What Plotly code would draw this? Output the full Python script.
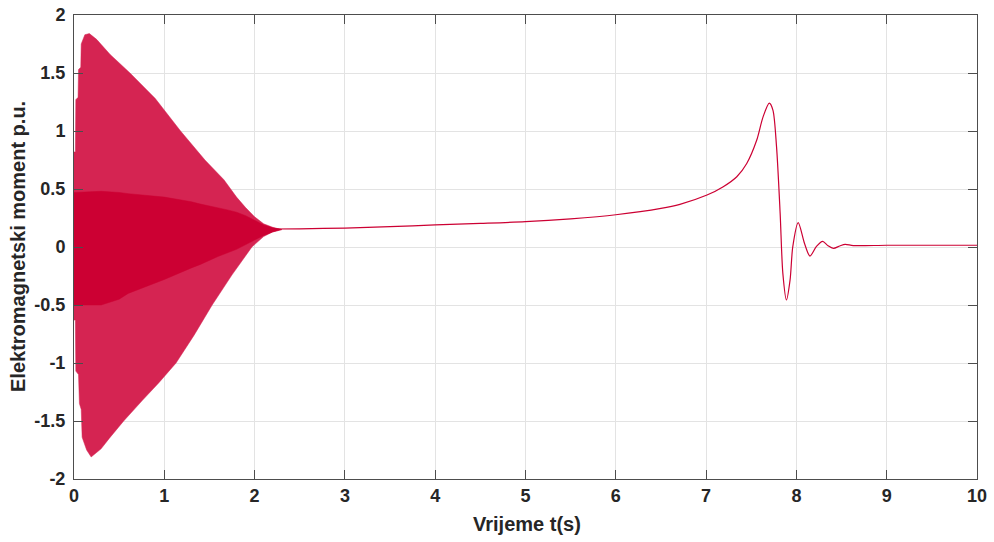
import plotly.graph_objects as go

# ---- Oscillating start-up region (envelopes) ----
env_t = [0.0, 0.015, 0.02, 0.045, 0.05, 0.075, 0.08, 0.12, 0.17, 0.25, 0.4, 0.62,
         0.9, 1.18, 1.45, 1.66, 1.8, 1.9, 2.0, 2.1, 2.2, 2.3]
env_upper = [0.82, 0.82, 1.27, 1.29, 1.53, 1.55, 1.75, 1.83, 1.84, 1.79, 1.66, 1.5,
             1.28, 1.0, 0.75, 0.58, 0.43, 0.34, 0.26, 0.2, 0.17, 0.155]
low_t = [0.0, 0.015, 0.02, 0.05, 0.06, 0.08, 0.09, 0.14, 0.19, 0.3, 0.39, 0.55, 0.76,
         0.94, 1.13, 1.33, 1.53, 1.75, 1.97, 2.1, 2.2, 2.3]
env_lower = [-0.63, -0.63, -1.07, -1.1, -1.35, -1.4, -1.64, -1.75, -1.81, -1.74, -1.65, -1.5, -1.32,
             -1.17, -1.0, -0.76, -0.5, -0.24, 0.0, 0.09, 0.13, 0.15]

# dense (solid) core of the oscillation
core_t = [0.0, 0.3, 0.5, 0.6, 1.0, 1.3, 1.4, 1.6, 1.7, 1.8, 1.9, 2.0, 2.1, 2.2, 2.3]
core_upper = [0.47, 0.48, 0.47, 0.46, 0.43, 0.39, 0.37, 0.34, 0.32, 0.3, 0.27, 0.23, 0.19, 0.165, 0.155]
core_lower = [-0.5, -0.5, -0.45, -0.4, -0.28, -0.18, -0.15, -0.08, -0.05, -0.02, 0.02, 0.06, 0.1, 0.13, 0.15]

# ---- Smooth part after start-up ----
curve_t = [2.2, 2.5, 3.0, 3.5, 4.0, 4.5, 5.0, 5.5, 6.0, 6.5, 6.71, 7.01, 7.19, 7.34, 7.45,
           7.56, 7.63, 7.70, 7.74, 7.78, 7.82, 7.85, 7.89, 7.93, 7.96, 8.02, 8.09, 8.15,
           8.22, 8.29, 8.35, 8.41, 8.48, 8.54, 8.63, 9.0, 9.5, 10.0]
curve_y = [0.155, 0.157, 0.163, 0.175, 0.19, 0.203, 0.218, 0.243, 0.278, 0.333, 0.368, 0.448,
           0.52, 0.606, 0.72, 0.92, 1.12, 1.24, 1.18, 0.865, 0.29, -0.227, -0.457, -0.284,
           0.003, 0.21, 0.03, -0.078, 0.003, 0.049, 0.011, -0.011, 0.009, 0.023, 0.012,
           0.015, 0.015, 0.015]

x_ticks = [0, 1, 2, 3, 4, 5, 6, 7, 8, 9, 10]
x_labels = ["0", "1", "2", "3", "4", "5", "6", "7", "8", "9", "10"]
y_ticks = [-2, -1.5, -1, -0.5, 0, 0.5, 1, 1.5, 2]
y_labels = ["-2", "-1.5", "-1", "-0.5", "0", "0.5", "1", "1.5", "2"]

LINE = "#cc0033"

fig = go.Figure()
fig.add_trace(go.Scatter(
    x=env_t + low_t[::-1], y=env_upper + env_lower[::-1],
    fill="toself", fillcolor="rgb(213,36,82)", mode="lines",
    line=dict(width=0.5, color="rgb(213,36,82)"), hoverinfo="skip", showlegend=False))
fig.add_trace(go.Scatter(
    x=core_t + core_t[::-1], y=core_upper + core_lower[::-1],
    fill="toself", fillcolor=LINE, mode="lines",
    line=dict(width=0.5, color=LINE), hoverinfo="skip", showlegend=False))
fig.add_trace(go.Scatter(
    x=curve_t, y=curve_y, mode="lines",
    line=dict(color=LINE, width=1.2, shape="spline", smoothing=0.8),
    showlegend=False))

tickfont = dict(family="Liberation Sans", size=18, color="#262626", weight="bold")
titlefont = dict(family="Liberation Sans", size=20, color="#262626", weight="bold")
axis_common = dict(
    showline=True, linecolor="#4d4d4d", linewidth=1, mirror="ticks",
    ticks="inside", ticklen=9, tickcolor="#4d4d4d", tickwidth=1,
    showgrid=True, gridcolor="#e3e3e3", gridwidth=1, zeroline=False,
    tickfont=tickfont, automargin=False, ticklabeloverflow="allow",
)

fig.update_layout(
    width=994, height=542,
    margin=dict(l=74, r=17, t=15, b=63),
    paper_bgcolor="white", plot_bgcolor="white",
    xaxis=dict(range=[0, 10], tickvals=x_ticks, ticktext=x_labels, **axis_common),
    yaxis=dict(range=[-2, 2], tickvals=y_ticks, ticktext=y_labels,
               ticklabelstandoff=4, **axis_common),
    annotations=[
        dict(text="Vrijeme t(s)", xref="paper", yref="paper", x=0.5017, y=-0.097,
             xanchor="center", yanchor="middle", showarrow=False, font=titlefont),
        dict(text="Elektromagnetski moment p.u.", xref="paper", yref="paper",
             x=-0.062, y=0.5, xanchor="center", yanchor="middle", textangle=-90,
             showarrow=False, font=titlefont),
    ],
)

# remove the page's default 8px body margin so the figure fills the window exactly
fig.write_html("out.html", config={"displayModeBar": False},
               post_script="document.body.style.margin='0px';document.body.style.overflow='hidden';")
